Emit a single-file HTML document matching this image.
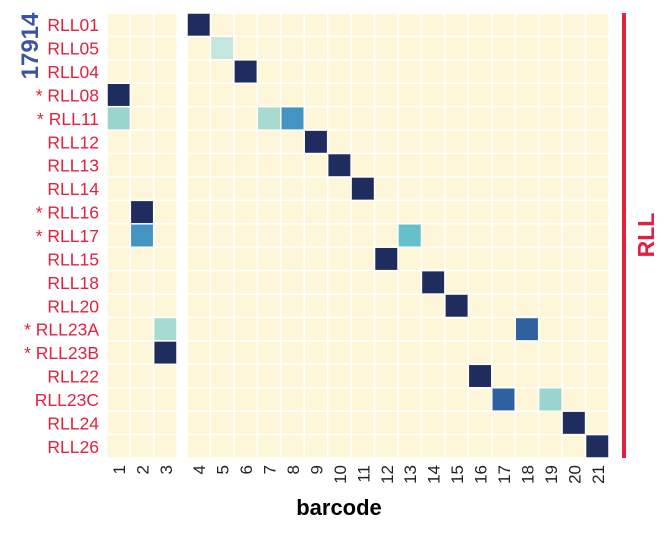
<!DOCTYPE html>
<html><head><meta charset="utf-8"><style>
body{margin:0;background:#fff;width:670px;height:533px;overflow:hidden}
text{font-family:"Liberation Sans",Arial,sans-serif}
</style></head><body>
<svg id="chart" width="670" height="533" xmlns="http://www.w3.org/2000/svg"></svg>
<script>
const rows=["RLL01","RLL05","RLL04","* RLL08","* RLL11","RLL12","RLL13","RLL14","* RLL16","* RLL17","RLL15","RLL18","RLL20","* RLL23A","* RLL23B","RLL22","RLL23C","RLL24","RLL26"];
const leftCols=[1,2,3];
const rightCols=[4,5,6,7,8,9,10,11,12,13,14,15,16,17,18,19,20,21];
const cellRows=[0,1,2,3,4,4,4,5,6,7,8,9,9,10,11,12,13,13,14,15,16,16,17,18];
const cellCols=[4,5,6,1,1,7,8,9,10,11,2,2,13,12,14,15,3,18,3,16,17,19,20,21];
const cellVals=[1,0.25,1,1,0.4,0.35,0.65,1,1,1,1,0.65,0.55,1,1,1,0.35,0.8,1,1,0.8,0.4,1,1];

const svg=document.getElementById('chart');
const NS="http://www.w3.org/2000/svg";
const top0=13,bottom0=458,rh=(bottom0-top0)/rows.length;
const lx0=107,lx1=177,rx0=187,rx1=609;
const lw=(lx1-lx0)/leftCols.length,rw=(rx1-rx0)/rightCols.length;
function xPos(c){const i=leftCols.indexOf(c);if(i>=0)return [lx0+i*lw,lw];const j=rightCols.indexOf(c);return [rx0+j*rw,rw];}
function yPos(r){return top0+r*rh;}
const stops=[[0,[254,246,216]],[0.25,[196,230,220]],[0.4,[153,213,204]],[0.55,[100,192,203]],[0.65,[67,147,195]],[0.8,[47,96,160]],[1,[31,45,94]]];
function color(v){for(let i=1;i<stops.length;i++){if(v<=stops[i][0]){const a=stops[i-1],b=stops[i],t=(v-a[0])/(b[0]-a[0]);return 'rgb('+a[1].map((x,k)=>Math.round(x+(b[1][k]-x)*t)).join(',')+')';}}return 'rgb(31,45,94)';}
function el(tag,attrs,txt){const e=document.createElementNS(NS,tag);for(const k in attrs)e.setAttribute(k,attrs[k]);if(txt!==undefined)e.textContent=txt;svg.appendChild(e);return e;}
[...leftCols,...rightCols].forEach(c=>{rows.forEach((r,ri)=>{const [x,w]=xPos(c);
 const e=el('rect',{x:x,y:yPos(ri),width:w,height:rh,fill:'#fef6d8',stroke:'#fff','stroke-width':1.5});
 
 });});
cellVals.forEach((v,i)=>{const [x,w]=xPos(cellCols[i]);
 const e=el('rect',{x:x+0.75,y:yPos(cellRows[i])+0.75,width:w-1.5,height:rh-1.5,fill:color(v)});
 
 });
rows.forEach((r,ri)=>{const e=el('text',{x:99,y:yPos(ri)+rh/2+6.5,'text-anchor':'end','font-size':17.5,fill:'#e3213f'},r);
 
 });
[...leftCols,...rightCols].forEach(c=>{const [x,w]=xPos(c);const cx=x+w/2+6.5;
 const e=el('text',{x:0,y:0,transform:'translate('+cx+',465) rotate(-90)','text-anchor':'end','font-size':17,fill:'#222'},String(c));
 
 });
let t=el('text',{x:339,y:515,'text-anchor':'middle','font-size':22,'font-weight':'bold',fill:'#000'},'barcode');


t=el('text',{x:0,y:0,transform:'translate(38,46) rotate(-90)','text-anchor':'middle','font-size':24,'font-weight':'bold',fill:'#3a55a4'},'17914');


t=el('rect',{x:622,y:13,width:4,height:445,fill:'#e3213f'});


t=el('text',{x:0,y:0,transform:'translate(654,235) rotate(-90)','text-anchor':'middle','font-size':23,'font-weight':'bold',fill:'#e3213f'},'RLL');


</script>
</body></html>
